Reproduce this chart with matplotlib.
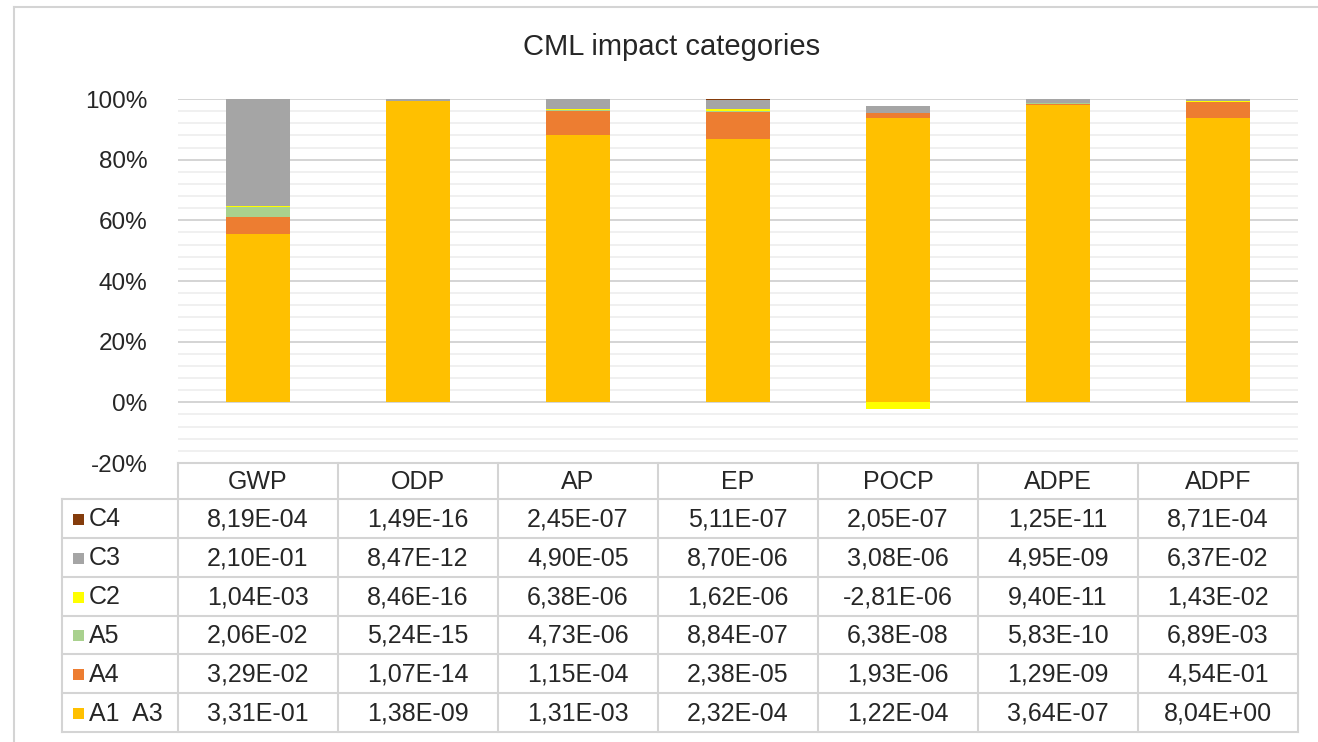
import matplotlib
matplotlib.use("Agg")
import matplotlib.pyplot as plt
import numpy as np

plt.rcParams['font.family'] = ['Liberation Sans', 'DejaVu Sans']

title = "CML impact categories"
categories = ["GWP", "ODP", "AP", "EP", "POCP", "ADPE", "ADPF"]
# stages, bottom of stack first
stages = ["A1  A3", "A4", "A5", "C2", "C3", "C4"]
a1a3 = [3.31e-01, 1.38e-09, 1.31e-03, 2.32e-04, 1.22e-04, 3.64e-07, 8.04e+00]
a4 = [3.29e-02, 1.07e-14, 1.15e-04, 2.38e-05, 1.93e-06, 1.29e-09, 4.54e-01]
a5 = [2.06e-02, 5.24e-15, 4.73e-06, 8.84e-07, 6.38e-08, 5.83e-10, 6.89e-03]
c2 = [1.04e-03, 8.46e-16, 6.38e-06, 1.62e-06, -2.81e-06, 9.40e-11, 1.43e-02]
c3 = [2.10e-01, 8.47e-12, 4.90e-05, 8.70e-06, 3.08e-06, 4.95e-09, 6.37e-02]
c4 = [8.19e-04, 1.49e-16, 2.45e-07, 5.11e-07, 2.05e-07, 1.25e-11, 8.71e-04]
series = [a1a3, a4, a5, c2, c3, c4]
colors = ["#FFC000", "#ED7D31", "#A9D18E", "#FFFF00", "#A5A5A5", "#843C0C"]
yticks = [-20, 0, 20, 40, 60, 80, 100]

W, H = 1318, 742
fig = plt.figure(figsize=(W / 100, H / 100), dpi=100)
txt = "#262626"
grid_major = "#D4D4D4"
grid_minor = "#EDEDED"

# plot area in pixels
px_l, px_r, px_t, px_b = 178, 1298, 99, 463
ax = fig.add_axes([px_l / W, 1 - px_b / H, (px_r - px_l) / W, (px_b - px_t) / H])

vals = np.array(series, dtype=float)
shares = vals / np.abs(vals).sum(axis=0) * 100
x = np.arange(len(categories))
pos_base = np.zeros(len(categories))
neg_base = np.zeros(len(categories))
for s, col in zip(shares, colors):
    bottoms = np.where(s >= 0, pos_base, neg_base)
    ax.bar(x, s, bottom=bottoms, width=0.406, color=col, zorder=3, linewidth=0)
    pos_base = pos_base + np.where(s >= 0, s, 0)
    neg_base = neg_base + np.where(s < 0, s, 0)

ax.set_xlim(-0.5, len(categories) - 0.5)
ax.set_ylim(-20, 100)
for yv in np.arange(-20, 101, 4):
    major = (yv % 20 == 0)
    ax.axhline(yv, color=grid_major if major else grid_minor,
               lw=1.4 if major else 1.2, zorder=1 if major else 0)
ax.set_yticks(yticks)
ax.set_yticklabels([f"{t}%" for t in yticks], fontsize=17.5, color=txt)
ax.tick_params(axis='y', length=0, pad=22)
ax.set_xticks([])
for sp in ax.spines.values():
    sp.set_visible(False)

# overlay for title, table and frame (pixel coordinates)
ov = fig.add_axes([0, 0, 1, 1], facecolor='none')
ov.set_xlim(0, W)
ov.set_ylim(H, 0)
ov.axis('off')

ov.text(672, 47, title, fontsize=21, color=txt, ha='center', va='center')

# outer frame (left and top visible)
ov.plot([14, 14], [7, H], color=grid_major, lw=1.5)
ov.plot([14, W], [7, 7], color=grid_major, lw=1.5)

# table
col_w = (px_r - px_l) / len(categories)
head_top, head_bot = 463, 499
row_h = (732 - head_bot) / len(stages)
lab_l = 62
lc = "#D4D4D4"
ov.plot([px_l, px_r], [head_top, head_top], color=lc, lw=1.5)
for k in range(len(stages) + 1):
    yy = head_bot + k * row_h
    ov.plot([lab_l, px_r], [yy, yy], color=lc, lw=1.5)
ov.plot([lab_l, lab_l], [head_bot, 732], color=lc, lw=1.5)
for i in range(len(categories) + 1):
    xx = px_l + i * col_w
    ov.plot([xx, xx], [head_top, 732], color=lc, lw=1.5)

for i, c in enumerate(categories):
    ov.text(px_l + (i + 0.5) * col_w, (head_top + head_bot) / 2 + 1, c,
            fontsize=18, color=txt, ha='center', va='center')

rows = list(range(len(stages)))[::-1]  # top row is last stage
for r, si in enumerate(rows):
    yc = head_bot + (r + 0.5) * row_h + 1
    ov.add_patch(plt.Rectangle((73, yc - 5.5), 11, 11, color=colors[si], lw=0))
    ov.text(89, yc, stages[si], fontsize=18, color=txt, ha='left', va='center')
    for i in range(len(categories)):
        s = f"{series[si][i]:.2E}".replace('.', ',')
        ov.text(px_l + (i + 0.5) * col_w, yc, s, fontsize=18, color=txt,
                ha='center', va='center')

fig.savefig("out.png", dpi=100, facecolor='white')
